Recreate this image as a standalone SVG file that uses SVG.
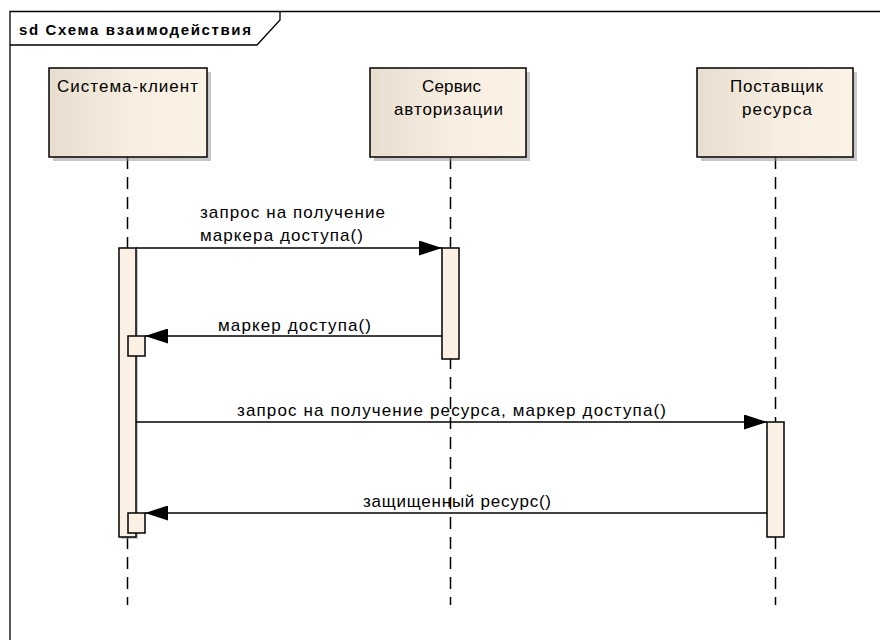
<svg xmlns="http://www.w3.org/2000/svg" width="880" height="640" viewBox="0 0 880 640">
<style>
text{font-family:"Liberation Sans",Arial,sans-serif;fill:#000;}
.lbl{font-size:17px;}
.ttl{font-size:15px;font-weight:bold;}
.box{fill:url(#g);stroke:#000;stroke-width:1.5;}
.shd{fill:#9a9a9a;opacity:0.55;}
.life{stroke:#000;stroke-width:1.5;stroke-dasharray:12 8;fill:none;}
.act{fill:#FBF0E3;stroke:#000;stroke-width:1.5;}
.msg{stroke:#000;stroke-width:1.5;marker-end:url(#ah);}
.frame{fill:none;stroke:#000;stroke-width:1.3;}
</style>
<defs>
<linearGradient id="g" x1="0" x2="1" y1="0" y2="0">
<stop offset="0" stop-color="#E7DED0"/>
<stop offset="0.55" stop-color="#F8EEE1"/>
<stop offset="1" stop-color="#FBF2E6"/>
</linearGradient>
<marker id="ah" markerWidth="23" markerHeight="15" refX="23" refY="7.5" orient="auto" markerUnits="userSpaceOnUse">
<path d="M0,0 L23,7.5 L0,15 z" fill="#000"/>
</marker>
</defs>
<rect width="880" height="640" fill="#fff"/>
<g id="frame">
<path class="frame" d="M10,640 V11.5 H880"/>
<path class="frame" d="M10,45 H257 L280,20 V11.5"/>
<text class="ttl" x="19" y="35" textLength="232" lengthAdjust="spacing">sd Схема взаимодействия</text>
</g>
<g id="client">
<line class="life" x1="127.5" y1="157" x2="127.5" y2="605"/>
<rect class="shd" x="53" y="72" width="158" height="89"/>
<rect class="box" x="49" y="68" width="158" height="89"/>
<text class="lbl" x="57" y="92" textLength="141" lengthAdjust="spacing">Система-клиент</text>
<rect class="shd" x="121" y="250" width="17" height="289"/>
<rect class="act" x="119" y="248" width="17" height="289"/>
<rect class="act" x="128" y="336" width="17" height="20"/>
<rect class="act" x="128" y="513" width="17" height="20"/>
</g>
<g id="auth">
<line class="life" x1="450.5" y1="157" x2="450.5" y2="605"/>
<rect class="shd" x="374" y="72" width="156" height="89"/>
<rect class="box" x="370" y="68" width="156" height="89"/>
<text class="lbl" x="422" y="92" textLength="59" lengthAdjust="spacing">Сервис</text>
<text class="lbl" x="394" y="115" textLength="109" lengthAdjust="spacing">авторизации</text>
<rect class="act" x="442" y="248" width="17" height="111"/>
</g>
<g id="provider">
<line class="life" x1="775.5" y1="157" x2="775.5" y2="605"/>
<rect class="shd" x="701" y="72" width="156" height="89"/>
<rect class="box" x="697" y="68" width="156" height="89"/>
<text class="lbl" x="730" y="92" textLength="93" lengthAdjust="spacing">Поставщик</text>
<text class="lbl" x="742" y="115" textLength="70" lengthAdjust="spacing">ресурса</text>
<rect class="act" x="767" y="422" width="17" height="115"/>
</g>
<g id="connectors">
<line class="msg" x1="136" y1="248" x2="442" y2="248"/>
<text class="lbl" x="200" y="218" textLength="185" lengthAdjust="spacing">запрос на получение</text>
<text class="lbl" x="200" y="241" textLength="163" lengthAdjust="spacing">маркера доступа()</text>
<line class="msg" x1="442" y1="336" x2="145" y2="336"/>
<text class="lbl" x="218" y="331" textLength="153" lengthAdjust="spacing">маркер доступа()</text>
<line class="msg" x1="136" y1="422" x2="767" y2="422"/>
<text class="lbl" x="237" y="416" textLength="429" lengthAdjust="spacing">запрос на получение ресурса, маркер доступа()</text>
<line class="msg" x1="767" y1="513" x2="145" y2="513"/>
<text class="lbl" x="363" y="507" textLength="188" lengthAdjust="spacing">защищенный ресурс()</text>
</g>
</svg>
